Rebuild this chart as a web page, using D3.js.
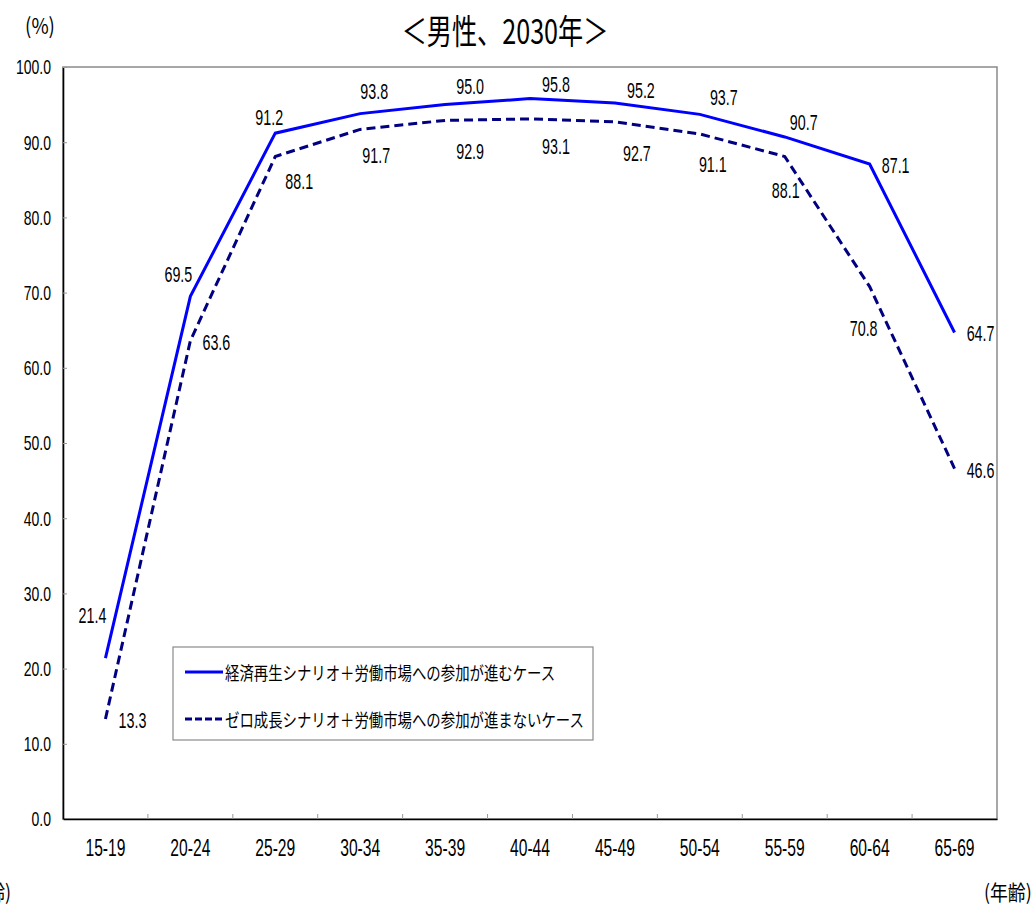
<!DOCTYPE html>
<html lang="ja">
<head>
<meta charset="utf-8">
<script src="https://cdn.jsdelivr.net/npm/d3@7"></script>
<style>
  html, body { margin: 0; padding: 0; background: #fff; }
  svg { display: block; }
</style>
</head>
<body>
<svg id="chart" width="1034" height="907"></svg>
<script>
// Age groups on the horizontal axis
const ageGroups = ["15-19", "20-24", "25-29", "30-34", "35-39", "40-44", "45-49", "50-54", "55-59", "60-64", "65-69"];

// Labour force participation rate (%), men, 2030
const revivalSeries = [21.4, 69.5, 91.2, 93.8, 95.0, 95.8, 95.2, 93.7, 90.7, 87.1, 64.7];
const zeroGrowthSeries = [13.3, 63.6, 88.1, 91.7, 92.9, 93.1, 92.7, 91.1, 88.1, 70.8, 46.6];

const seriesNames = [
  "経済再生シナリオ＋労働市場への参加が進むケース",
  "ゼロ成長シナリオ＋労働市場への参加が進まないケース"
];

const yTickValues = [0, 10, 20, 30, 40, 50, 60, 70, 80, 90, 100];

const titleText = "＜男性、2030年＞";
const yUnitText = "(%)";
const xUnitText = "(年齢)";

// Label offsets (dx, dy) from each point, in pixels
const revivalLabelOffsets = [[-13, -43], [-12, -22], [-6, -16], [14, -22], [25, -18], [26, -14], [26, -13], [24, -17], [19, -15], [26, 1], [26, 1]];
const zeroLabelOffsets = [[27, 1], [26, 2], [24, 25], [16, 26], [25, 31], [26, 27], [22, 31], [13, 30], [1, 34], [-6, 42], [26, 2]];

const svg = d3.select("#chart");
const plot = { left: 63, right: 997, top: 67, bottom: 819 };

const x = d3.scaleBand().domain(ageGroups).range([plot.left, plot.right]).paddingInner(0).paddingOuter(0);
const y = d3.scaleLinear().domain([0, 100]).range([plot.bottom, plot.top]);
const cx = d => x(d) + x.bandwidth() / 2;

const numFont = "'Liberation Sans', Arial, sans-serif";
const jpFont = "'Noto Sans CJK JP', 'Noto Sans', sans-serif";

// Plot area frame (grey), axes drawn on top in black
svg.append("rect")
  .attr("x", plot.left).attr("y", plot.top)
  .attr("width", plot.right - plot.left).attr("height", plot.bottom - plot.top)
  .attr("fill", "#fff").attr("stroke", "#8a8a8a").attr("stroke-width", 1.5);

// Y axis
const yAxis = svg.append("g")
  .attr("transform", `translate(${plot.left},0)`)
  .call(d3.axisLeft(y).tickValues(yTickValues).tickSize(-4).tickSizeOuter(0).tickFormat(d => d.toFixed(1)));
yAxis.select(".domain").attr("stroke", "#000").attr("stroke-width", 1.6);
yAxis.selectAll(".tick line").attr("stroke", "#999").attr("stroke-width", 1);
yAxis.selectAll(".tick text")
  .attr("x", null).attr("dy", null)
  .attr("transform", "translate(-12,0) scale(0.7,1)")
  .attr("dominant-baseline", "central")
  .attr("fill", "#000")
  .style("font-family", numFont).style("font-size", "20px");

// X axis labels
const xAxis = svg.append("g")
  .attr("transform", `translate(0,${plot.bottom})`)
  .call(d3.axisBottom(x).tickSize(0).tickSizeOuter(0));
xAxis.select(".domain").attr("stroke", "#000").attr("stroke-width", 1.6);
xAxis.selectAll(".tick text")
  .attr("y", 29).attr("dy", null)
  .attr("dominant-baseline", "central")
  .attr("transform", "scale(0.68,1)")
  .attr("fill", "#000")
  .style("font-family", numFont).style("font-size", "23px");

// X ticks on the category boundaries
svg.append("g").selectAll("line")
  .data(ageGroups.slice(1))
  .join("line")
  .attr("x1", d => x(d)).attr("x2", d => x(d))
  .attr("y1", plot.bottom).attr("y2", plot.bottom - 5)
  .attr("stroke", "#999").attr("stroke-width", 1);

// Series lines
const line = d3.line().x((d, i) => cx(ageGroups[i])).y(d => y(d));

svg.append("path")
  .datum(zeroGrowthSeries)
  .attr("d", line)
  .attr("fill", "none").attr("stroke", "#000080").attr("stroke-width", 3)
  .attr("stroke-dasharray", "9,5");

svg.append("path")
  .datum(revivalSeries)
  .attr("d", line)
  .attr("fill", "none").attr("stroke", "#0000ff").attr("stroke-width", 3);

// Value labels
function drawLabels(values, offsets) {
  svg.append("g").selectAll("text")
    .data(values)
    .join("text")
    .attr("transform", (d, i) => `translate(${cx(ageGroups[i]) + offsets[i][0]},${y(d) + offsets[i][1]}) scale(0.65,1)`)
    .attr("text-anchor", "middle")
    .attr("dominant-baseline", "central")
    .style("font-family", numFont).style("font-size", "22px")
    .attr("fill", "#000")
    .text(d => d.toFixed(1));
}
drawLabels(revivalSeries, revivalLabelOffsets);
drawLabels(zeroGrowthSeries, zeroLabelOffsets);

// Legend
const legend = svg.append("g");
legend.append("rect")
  .attr("x", 173).attr("y", 647).attr("width", 420).attr("height", 93)
  .attr("fill", "#fff").attr("stroke", "#8a8a8a").attr("stroke-width", 1.2);

const legendRows = [
  { name: seriesNames[0], color: "#0000ff", dash: null, y: 672 },
  { name: seriesNames[1], color: "#000080", dash: "7,3", y: 719 }
];
legendRows.forEach(r => {
  legend.append("line")
    .attr("x1", 185).attr("x2", 223).attr("y1", r.y).attr("y2", r.y)
    .attr("stroke", r.color).attr("stroke-width", 3)
    .attr("stroke-dasharray", r.dash);
  legend.append("text")
    .attr("transform", `translate(225,${r.y}) scale(0.8,1)`)
    .attr("dominant-baseline", "central")
    .style("font-family", jpFont).style("font-size", "18px")
    .attr("fill", "#000")
    .text(r.name);
});

// Title and unit labels
svg.append("text")
  .attr("transform", "translate(505,29) scale(0.74,1)")
  .attr("text-anchor", "middle").attr("dominant-baseline", "central")
  .style("font-family", jpFont).style("font-size", "34px")
  .attr("fill", "#000")
  .text(titleText);

svg.append("text")
  .attr("transform", "translate(40,24) scale(0.85,1)")
  .attr("text-anchor", "middle").attr("dominant-baseline", "central")
  .style("font-family", jpFont).style("font-size", "22px")
  .attr("fill", "#000")
  .text(yUnitText);

svg.append("text")
  .attr("transform", "translate(984,891) scale(0.85,1)")
  .attr("dominant-baseline", "central")
  .style("font-family", jpFont).style("font-size", "21px")
  .attr("fill", "#000")
  .text(xUnitText);

svg.append("text")
  .attr("transform", "translate(11,891) scale(0.85,1)")
  .attr("text-anchor", "end")
  .attr("dominant-baseline", "central")
  .style("font-family", jpFont).style("font-size", "21px")
  .attr("fill", "#000")
  .text(xUnitText);
</script>
</body>
</html>
